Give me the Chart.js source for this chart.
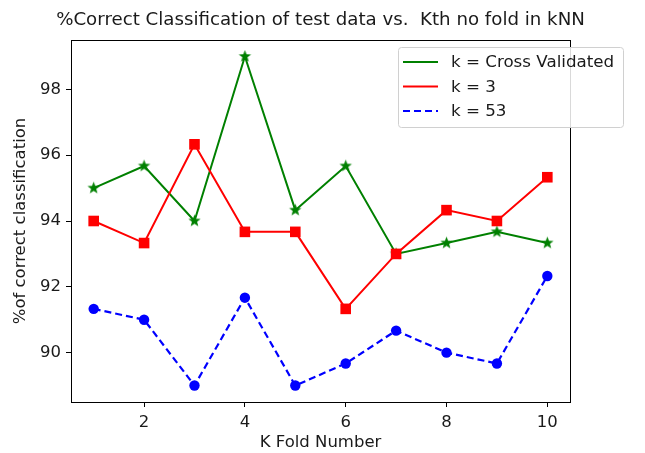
<!DOCTYPE html>
<html><head><meta charset="utf-8">
<script src="https://cdn.jsdelivr.net/npm/chart.js@4"></script>
<style>html,body{margin:0;padding:0;background:#fff;overflow:hidden;}</style>
</head><body>
<canvas id="c" width="645" height="453" style="width:645px;height:453px;display:block"></canvas>
<script>
const folds = [1, 2, 3, 4, 5, 6, 7, 8, 9, 10];
const crossValidated = [95.0, 95.67, 94.0, 99.0, 94.33, 95.67, 93.0, 93.33, 93.67, 93.33];
const k3 = [94.0, 93.33, 96.33, 93.67, 93.67, 91.33, 93.0, 94.33, 94.0, 95.33];
const k53 = [91.33, 91.0, 89.0, 91.67, 89.0, 89.67, 90.67, 90.0, 89.67, 92.33];
const xTicks = [2, 4, 6, 8, 10];
const yTicks = [90, 92, 94, 96, 98];
const seriesLabels = ['k = Cross Validated', 'k = 3', 'k = 53'];
const titleText = '%Correct Classification of test data vs.  Kth no fold in kNN';
const xTitle = 'K Fold Number';
const yTitle = '%of correct classification';

const FONT = "'DejaVu Sans', sans-serif";
const TXT = '#1a1a1a';
Chart.defaults.font.family = FONT;
Chart.defaults.color = TXT;

function makeStar(color, R, r) {
  const s = Math.ceil(R * 2) + 2;
  const c = document.createElement('canvas');
  c.width = s; c.height = s;
  const ctx = c.getContext('2d');
  ctx.beginPath();
  for (let i = 0; i < 10; i++) {
    const rad = i % 2 ? r : R;
    const a = -Math.PI / 2 + i * Math.PI / 5;
    ctx.lineTo(s / 2 + rad * Math.cos(a), s / 2 + rad * Math.sin(a));
  }
  ctx.closePath();
  ctx.fillStyle = color;
  ctx.fill();
  return c;
}

const toXY = arr => arr.map((v, i) => ({x: folds[i], y: v}));

const datasets = [
  {label: seriesLabels[0], data: toXY(crossValidated), borderColor: '#008000', backgroundColor: '#008000',
   borderWidth: 2, pointStyle: makeStar('#008000', 6.5, 2.7), pointRadius: 6, order: 3, legendDash: []},
  {label: seriesLabels[1], data: toXY(k3), borderColor: '#ff0000', backgroundColor: '#ff0000',
   borderWidth: 2, pointStyle: 'rect', pointRadius: 7.5, pointBorderWidth: 0, order: 2, legendDash: []},
  {label: seriesLabels[2], data: toXY(k53), borderColor: '#0000ff', backgroundColor: '#0000ff',
   borderWidth: 2.2, borderDash: [7, 4], pointStyle: 'circle', pointRadius: 5.2, pointBorderWidth: 0, order: 1, legendDash: [7, 4]}
];

const framePlugin = {
  id: 'frame',
  afterDraw(chart) {
    const {ctx, chartArea: a} = chart;
    ctx.save();
    ctx.strokeStyle = '#000';
    ctx.lineWidth = 1;
    ctx.strokeRect(Math.round(a.left) + 0.5, Math.round(a.top) + 0.5, Math.round(a.right - a.left), Math.round(a.bottom - a.top));
    // title
    ctx.fillStyle = TXT;
    ctx.font = '18.2px ' + FONT;
    ctx.textAlign = 'center';
    ctx.textBaseline = 'middle';
    ctx.fillText(titleText, (a.left + a.right) / 2, 20);
    // legend
    const lx = 398, ly = 47, lw = 225, lh = 80;
    ctx.beginPath();
    ctx.roundRect(lx + 0.5, ly + 0.5, lw, lh, 3);
    ctx.fillStyle = 'rgba(255,255,255,0.85)';
    ctx.fill();
    ctx.strokeStyle = '#d0d0d0';
    ctx.lineWidth = 1;
    ctx.stroke();
    ctx.font = '16.7px ' + FONT;
    ctx.textAlign = 'left';
    chart.data.datasets.forEach((ds, i) => {
      const y = 62 + i * 24.5;
      ctx.beginPath();
      ctx.setLineDash(ds.legendDash);
      ctx.strokeStyle = ds.borderColor;
      ctx.lineWidth = ds.borderWidth;
      ctx.moveTo(403, y);
      ctx.lineTo(438, y);
      ctx.stroke();
      ctx.setLineDash([]);
      ctx.fillStyle = TXT;
      ctx.fillText(ds.label, 451, y + 1);
    });
    ctx.restore();
  }
};

new Chart(document.getElementById('c'), {
  type: 'line',
  data: {datasets},
  options: {
    responsive: false,
    animation: false,
    devicePixelRatio: 1,
    layout: {padding: {left: 0, right: 75, top: 40, bottom: 0}},
    plugins: {legend: {display: false}, tooltip: {enabled: false}, title: {display: false}},
    elements: {line: {tension: 0}},
    scales: {
      x: {
        type: 'linear', min: 0.55, max: 10.45,
        afterBuildTicks: s => { s.ticks = xTicks.map(v => ({value: v})); },
        afterFit: s => { s.height = 51; },
        grid: {drawOnChartArea: false, drawTicks: true, tickLength: 5, color: '#000', tickColor: '#000'},
        border: {display: true, color: '#000'},
        ticks: {padding: 6, font: {size: 16.5}, color: TXT, maxRotation: 0},
        title: {display: true, text: xTitle, font: {size: 16.5}, color: TXT, padding: {top: 0, bottom: 0}}
      },
      y: {
        type: 'linear', min: 88.5, max: 99.5,
        afterBuildTicks: s => { s.ticks = yTicks.map(v => ({value: v})); },
        afterFit: s => { s.width = 71; },
        grid: {drawOnChartArea: false, drawTicks: true, tickLength: 5, color: '#000', tickColor: '#000'},
        border: {display: true, color: '#000'},
        ticks: {padding: 5, font: {size: 16.5}, color: TXT},
        title: {display: true, text: yTitle, font: {size: 16.5}, color: TXT, padding: {top: 11, bottom: 0}}
      }
    }
  },
  plugins: [framePlugin]
});
</script>
</body></html>
